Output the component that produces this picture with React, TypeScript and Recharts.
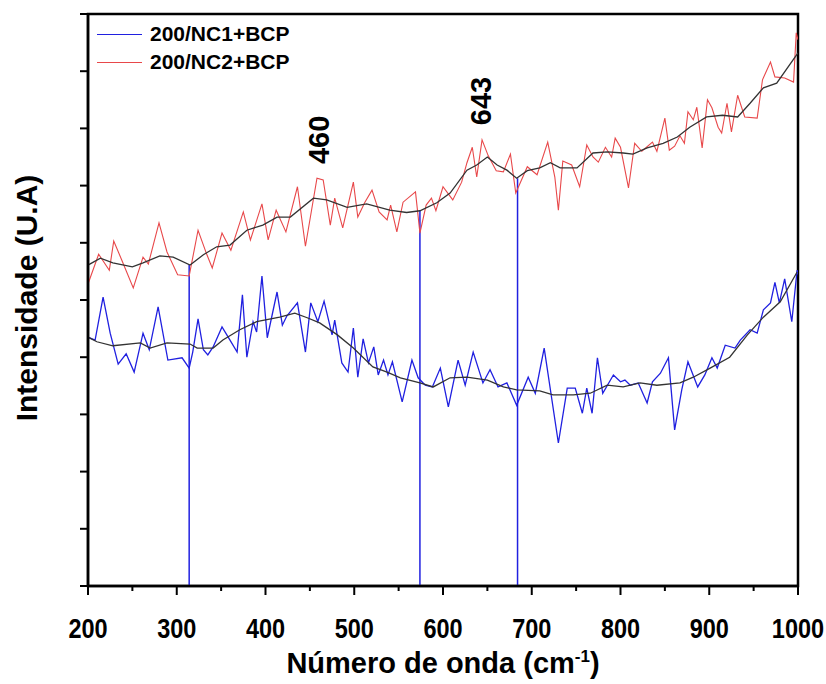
import React from "react";
import {
  LineChart,
  Line,
  XAxis,
  YAxis,
  ReferenceLine,
  ReferenceDot,
  ReferenceArea,
} from "recharts";

// Raman spectra, wavenumber (cm-1) vs intensity (arbitrary units, 0-10 grid)
const nc1Raw: [number, number][] = [
  [200, 4.35], [208, 4.3], [217, 5.05], [225, 4.42], [234, 3.88], [243, 4.06], [252, 3.74],
  [262, 4.42], [269, 4.13], [279, 4.88], [290, 3.95], [306, 3.99], [314, 3.81], [318, 4.09],
  [324, 4.67], [330, 4.13], [335, 4.04], [341, 4.18], [351, 4.53], [360, 4.3], [368, 4.09],
  [374, 5.09], [379, 4.0], [386, 4.62], [390, 4.44], [396, 5.42], [402, 4.34], [413, 5.14],
  [419, 4.56], [424, 4.72], [436, 4.95], [445, 4.09], [451, 4.95], [459, 4.62], [466, 4.98],
  [475, 4.39], [478, 4.65], [486, 3.9], [493, 3.74], [499, 4.51], [504, 3.65], [510, 4.32],
  [516, 3.9], [522, 4.18], [527, 3.69], [533, 3.95], [538, 3.69], [543, 3.92], [554, 3.22],
  [565, 3.95], [572, 3.64], [580, 3.51], [588, 3.48], [597, 3.81], [606, 3.13], [617, 3.95],
  [625, 3.51], [634, 4.09], [645, 3.55], [653, 3.78], [662, 3.48], [672, 3.55], [683, 3.16],
  [696, 3.65], [704, 3.37], [714, 4.16], [730, 2.5], [740, 3.46], [749, 3.46], [757, 3.02],
  [762, 3.46], [768, 3.02], [774, 3.99], [780, 3.37], [792, 3.69], [800, 3.57], [805, 3.6],
  [811, 3.51], [820, 3.55], [830, 3.2], [836, 3.57], [845, 3.72], [854, 3.99], [861, 2.73],
  [869, 3.43], [876, 3.92], [887, 3.48], [895, 3.69], [903, 3.99], [909, 3.81], [918, 4.21],
  [929, 4.16], [935, 4.3], [946, 4.48], [954, 4.42], [961, 4.83], [969, 4.95], [974, 5.31],
  [979, 4.95], [985, 5.37], [993, 4.62], [999, 5.52], [1000, 5.45],
];

const nc1Smooth: [number, number][] = [
  [200, 4.35], [210, 4.27], [228, 4.2], [259, 4.25], [270, 4.16], [289, 4.25], [315, 4.23],
  [323, 4.16], [341, 4.16], [352, 4.3], [371, 4.48], [390, 4.62], [416, 4.7], [433, 4.77],
  [447, 4.69], [461, 4.6], [481, 4.39], [499, 4.16], [521, 3.83], [537, 3.74], [552, 3.64],
  [574, 3.55], [589, 3.48], [608, 3.64], [627, 3.65], [650, 3.6], [668, 3.48], [683, 3.43],
  [709, 3.41], [724, 3.34], [747, 3.34], [766, 3.37], [785, 3.51], [803, 3.48], [822, 3.55],
  [841, 3.51], [867, 3.55], [882, 3.65], [901, 3.81], [923, 4.0], [943, 4.39], [961, 4.7],
  [980, 4.97], [999, 5.49],
];

const nc2Raw: [number, number][] = [
  [200, 5.28], [212, 5.8], [224, 5.52], [229, 6.03], [238, 5.7], [251, 5.21], [262, 5.75],
  [268, 5.63], [280, 6.35], [289, 5.84], [301, 5.44], [314, 5.42], [324, 6.22], [334, 5.79],
  [340, 5.56], [351, 6.17], [361, 5.87], [375, 6.54], [383, 6.05], [396, 6.68], [403, 6.05],
  [412, 6.57], [423, 6.19], [436, 6.98], [445, 5.94], [458, 7.13], [465, 7.1], [473, 6.31],
  [478, 6.78], [487, 6.26], [499, 7.06], [504, 6.45], [512, 6.71], [520, 6.92], [528, 6.54],
  [537, 6.4], [541, 6.66], [548, 6.19], [555, 6.71], [569, 6.89], [574, 6.17], [581, 6.66],
  [587, 6.78], [592, 6.56], [600, 6.98], [611, 6.75], [621, 7.06], [627, 7.4], [633, 7.67],
  [638, 7.15], [644, 7.8], [651, 7.52], [660, 7.26], [668, 7.24], [676, 7.55], [682, 6.87],
  [695, 7.33], [706, 7.19], [718, 7.76], [726, 7.15], [730, 6.57], [735, 7.43], [745, 7.36],
  [754, 6.98], [762, 7.71], [769, 7.5], [775, 7.41], [783, 7.67], [790, 7.5], [794, 7.83],
  [800, 7.67], [809, 6.96], [816, 7.74], [824, 7.6], [836, 7.76], [841, 7.6], [850, 8.18],
  [855, 7.62], [861, 7.69], [867, 7.87], [872, 7.74], [876, 8.29], [882, 8.15], [886, 8.37],
  [892, 7.66], [898, 8.5], [903, 8.36], [910, 8.02], [914, 7.92], [920, 8.44], [925, 7.94],
  [932, 8.58], [940, 8.2], [954, 8.18], [960, 8.85], [969, 9.16], [974, 8.9], [985, 8.88],
  [995, 8.81], [998, 9.67], [1000, 9.55],
];

const nc2Smooth: [number, number][] = [
  [200, 5.61], [214, 5.73], [228, 5.65], [250, 5.58], [262, 5.65], [281, 5.77], [296, 5.75],
  [315, 5.61], [330, 5.79], [345, 5.93], [360, 5.96], [379, 6.22], [397, 6.31], [413, 6.45],
  [428, 6.45], [454, 6.78], [469, 6.75], [492, 6.62], [506, 6.66], [514, 6.68], [540, 6.57],
  [559, 6.53], [574, 6.56], [593, 6.7], [608, 6.87], [627, 7.27], [638, 7.36], [650, 7.5],
  [661, 7.36], [672, 7.27], [683, 7.13], [695, 7.26], [709, 7.31], [721, 7.4], [732, 7.31],
  [751, 7.31], [769, 7.57], [785, 7.59], [803, 7.57], [814, 7.55], [830, 7.66], [848, 7.74],
  [864, 7.85], [878, 8.02], [897, 8.2], [915, 8.23], [932, 8.2], [946, 8.44], [961, 8.71],
  [976, 8.79], [1000, 9.32],
];

// vertical marker lines: wavenumber, top of the line (meets the NC2 baseline)
const markerX = [314, 574, 684];
const markerTop = [5.61, 6.56, 7.13];

const peakLabels = ["460", "643"];
const peakX = [460, 643];
const peakY = [7.8, 8.48];

const xTicks = [200, 250, 300, 350, 400, 450, 500, 550, 600, 650, 700, 750, 800, 850, 900, 950, 1000];
const yTicks = [0, 1, 2, 3, 4, 5, 6, 7, 8, 9, 10];

const toRows = (pts: [number, number][]) => pts.map(([x, v]) => ({ x, v }));

const BLUE = "#2020e0";
const RED = "#e8484a";
const FONT = "'Liberation Sans', Arial, sans-serif";

function XTick(props: any) {
  const { x, y, payload } = props;
  const major = payload.value % 100 === 0;
  return (
    <g>
      <line x1={x} x2={x} y1={y} y2={y + (major ? 9 : 5)} stroke="#000" strokeWidth={2} />
      {major && (
        <text
          transform={`translate(${x} ${y + 52}) scale(0.84 1)`}
          textAnchor="middle"
          fontFamily={FONT}
          fontWeight="bold"
          fontSize={28}
          fill="#000"
        >
          {payload.value}
        </text>
      )}
    </g>
  );
}

function YTick(props: any) {
  const { x, y } = props;
  return <line x1={x - 8} x2={x} y1={y} y2={y} stroke="#000" strokeWidth={2} />;
}

function PeakText(props: any) {
  const { cx, cy, label } = props;
  return (
    <text
      x={cx}
      y={cy}
      transform={`rotate(-90 ${cx} ${cy})`}
      textAnchor="middle"
      dominantBaseline="central"
      fontFamily={FONT}
      fontWeight="bold"
      fontSize={29}
      fill="#000"
    >
      {label}
    </text>
  );
}

const legendItems = [
  { name: "200/NC1+BCP", color: BLUE },
  { name: "200/NC2+BCP", color: RED },
];

export default function App() {
  return (
    <div style={{ position: "absolute", left: 0, top: 0, width: 826, height: 684, background: "#fff" }}>
      <LineChart width={826} height={684} margin={{ top: 14, right: 28, bottom: 38, left: 78 }}>
        <XAxis
          dataKey="x"
          type="number"
          domain={[200, 1000]}
          ticks={xTicks}
          interval={0}
          allowDataOverflow
          height={60}
          tickSize={0}
          tickMargin={0}
          tickLine={false}
          axisLine={{ stroke: "#000", strokeWidth: 2.5 }}
          tick={<XTick />}
          label={{
            content: (p: any) => {
              const vb = p.viewBox;
              return (
                <text x={vb.x + vb.width / 2} y={673} textAnchor="middle" fontFamily={FONT} fontWeight="bold" fontSize={29} fill="#000">
                  Número de onda (cm
                  <tspan dy={-11} fontSize={17}>-1</tspan>
                  <tspan dy={11}>)</tspan>
                </text>
              );
            },
          }}
        />
        <YAxis
          type="number"
          domain={[0, 10]}
          ticks={yTicks}
          interval={0}
          width={10}
          tickSize={0}
          tickMargin={0}
          tickLine={false}
          tick={<YTick />}
          axisLine={{ stroke: "#000", strokeWidth: 2.5 }}
          label={{
            content: () => (
              <text x={26} y={298} transform="rotate(-90 26 298)" textAnchor="middle" dominantBaseline="central" fontFamily={FONT} fontWeight="bold" fontSize={30} fill="#000">
                Intensidade (U.A)
              </text>
            ),
          }}
        />

        {/* plot frame */}
        <ReferenceArea x1={200} x2={1000} y1={0} y2={10} fill="none" stroke="#000" strokeWidth={2.5} ifOverflow="visible" />

        {markerX.map((mx, i) => (
          <ReferenceLine
            key={`m-${mx}`}
            segment={[{ x: mx, y: 0 }, { x: mx, y: markerTop[i] }]}
            stroke={BLUE}
            strokeWidth={1.5}
          />
        ))}

        <Line data={toRows(nc1Raw)} dataKey="v" type="linear" stroke={BLUE} strokeWidth={1.3} dot={false} isAnimationActive={false} />
        <Line data={toRows(nc2Raw)} dataKey="v" type="linear" stroke={RED} strokeWidth={1.1} dot={false} isAnimationActive={false} />
        <Line data={toRows(nc1Smooth)} dataKey="v" type="linear" stroke="#333" strokeWidth={1.3} dot={false} isAnimationActive={false} />
        <Line data={toRows(nc2Smooth)} dataKey="v" type="linear" stroke="#333" strokeWidth={1.3} dot={false} isAnimationActive={false} />

        {peakLabels.map((lab, i) => (
          <ReferenceDot
            key={`p-${lab}`}
            x={peakX[i]}
            y={peakY[i]}
            r={0}
            shape={(p: any) => <PeakText {...p} label={lab} />}
          />
        ))}
      </LineChart>

      <div style={{ position: "absolute", left: 97, top: 20, fontFamily: FONT, fontWeight: "bold", fontSize: 21, color: "#000", lineHeight: "28px" }}>
        {legendItems.map((it) => (
          <div key={it.name} style={{ display: "flex", alignItems: "center" }}>
            <div style={{ width: 45, height: 0, borderTop: `1.5px solid ${it.color}`, marginRight: 8 }} />
            <span>{it.name}</span>
          </div>
        ))}
      </div>
    </div>
  );
}
